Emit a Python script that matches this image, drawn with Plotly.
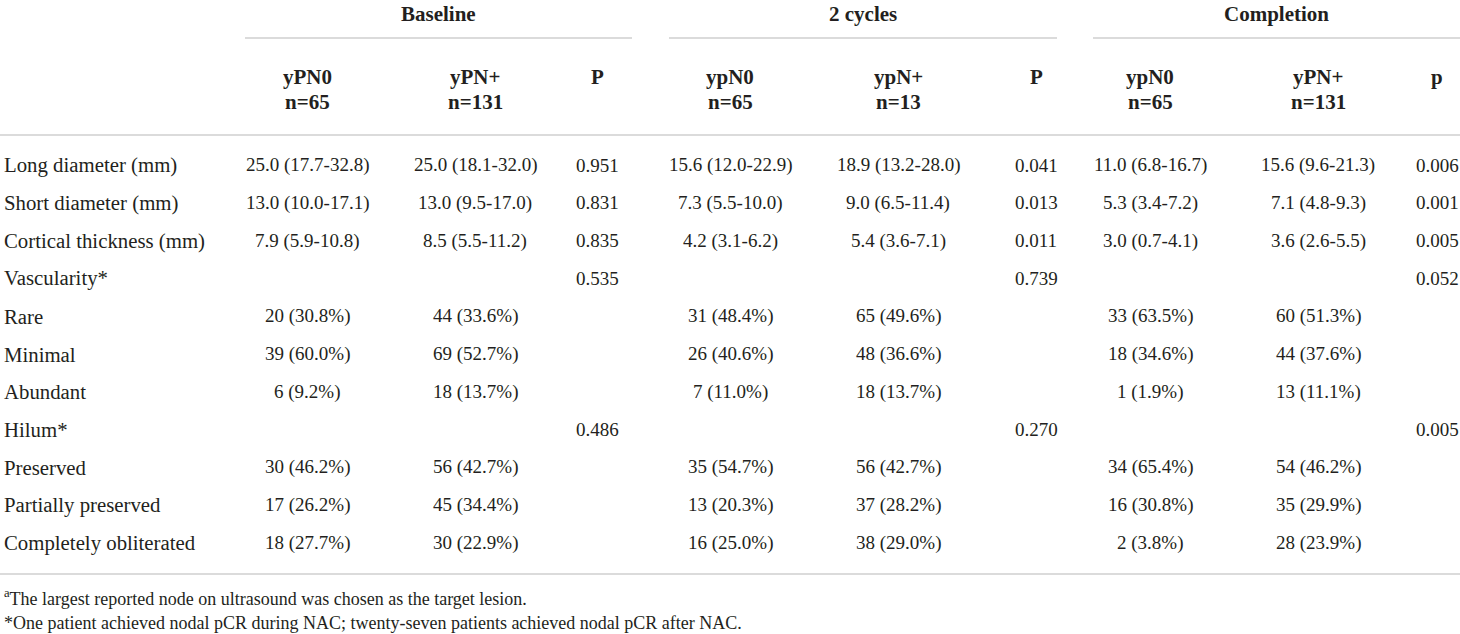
import plotly.graph_objects as go

# ---------------- data ----------------
groups = ["Baseline", "2 cycles", "Completion"]
col_head_1 = ["yPN0", "yPN+", "P", "ypN0", "ypN+", "P", "ypN0", "yPN+", "p"]
col_head_2 = ["n=65", "n=131", "", "n=65", "n=13", "", "n=65", "n=131", ""]
row_labels = ["Long diameter (mm)", "Short diameter (mm)", "Cortical thickness (mm)",
              "Vascularity*", "Rare", "Minimal", "Abundant", "Hilum*",
              "Preserved", "Partially preserved", "Completely obliterated"]

baseline_n0 = ["25.0 (17.7-32.8)", "13.0 (10.0-17.1)", "7.9 (5.9-10.8)", "",
               "20 (30.8%)", "39 (60.0%)", "6 (9.2%)", "",
               "30 (46.2%)", "17 (26.2%)", "18 (27.7%)"]
baseline_np = ["25.0 (18.1-32.0)", "13.0 (9.5-17.0)", "8.5 (5.5-11.2)", "",
               "44 (33.6%)", "69 (52.7%)", "18 (13.7%)", "",
               "56 (42.7%)", "45 (34.4%)", "30 (22.9%)"]
baseline_p = ["0.951", "0.831", "0.835", "0.535", "", "", "", "0.486", "", "", ""]

cyc2_n0 = ["15.6 (12.0-22.9)", "7.3 (5.5-10.0)", "4.2 (3.1-6.2)", "",
           "31 (48.4%)", "26 (40.6%)", "7 (11.0%)", "",
           "35 (54.7%)", "13 (20.3%)", "16 (25.0%)"]
cyc2_np = ["18.9 (13.2-28.0)", "9.0 (6.5-11.4)", "5.4 (3.6-7.1)", "",
           "65 (49.6%)", "48 (36.6%)", "18 (13.7%)", "",
           "56 (42.7%)", "37 (28.2%)", "38 (29.0%)"]
cyc2_p = ["0.041", "0.013", "0.011", "0.739", "", "", "", "0.270", "", "", ""]

comp_n0 = ["11.0 (6.8-16.7)", "5.3 (3.4-7.2)", "3.0 (0.7-4.1)", "",
           "33 (63.5%)", "18 (34.6%)", "1 (1.9%)", "",
           "34 (65.4%)", "16 (30.8%)", "2 (3.8%)"]
comp_np = ["15.6 (9.6-21.3)", "7.1 (4.8-9.3)", "3.6 (2.6-5.5)", "",
           "60 (51.3%)", "44 (37.6%)", "13 (11.1%)", "",
           "54 (46.2%)", "35 (29.9%)", "28 (23.9%)"]
comp_p = ["0.006", "0.001", "0.005", "0.052", "", "", "", "0.005", "", "", ""]

footnotes = ["<sup>a</sup>The largest reported node on ultrasound was chosen as the target lesion.",
             "*One patient achieved nodal pCR during NAC; twenty-seven patients achieved nodal pCR after NAC."]

columns = [baseline_n0, baseline_np, baseline_p,
           cyc2_n0, cyc2_np, cyc2_p,
           comp_n0, comp_np, comp_p]

# ---------------- layout constants ----------------
W, H = 1460, 634
FONT = "Liberation Serif"
COLOR = "#231f20"
LINE = "#cfcfcf"
FS_VAL = 19
FS_LAB = 20.8
FS_HEAD = 21
FS_FOOT = 18
col_x = [307, 475, 597, 730, 898, 1036, 1150, 1318, 1437]
group_span = [(245, 632), (669, 1057), (1093, 1460)]
group_y = 14
group_line_y = 38
head_y1 = 77
head_y2 = 102
rule_top = 135
row_y0 = 165
row_dy = 37.8
rule_bot = 574
foot_y = [597, 623]

fig = go.Figure()
ann = []

for g, (a, b) in zip(groups, group_span):
    ann.append(dict(x=(a + b) / 2, y=group_y, text=f"<b>{g}</b>", showarrow=False,
                    xanchor="center", yanchor="middle", font=dict(size=FS_HEAD)))
for h1, h2, cx in zip(col_head_1, col_head_2, col_x):
    ann.append(dict(x=cx, y=head_y1, text=f"<b>{h1}</b>", showarrow=False,
                    xanchor="center", yanchor="middle", font=dict(size=FS_HEAD)))
    if h2:
        ann.append(dict(x=cx, y=head_y2, text=f"<b>{h2}</b>", showarrow=False,
                        xanchor="center", yanchor="middle", font=dict(size=FS_HEAD)))

for i, lab in enumerate(row_labels):
    y = row_y0 + i * row_dy
    ann.append(dict(x=2, y=y, text=lab, showarrow=False, xanchor="left", yanchor="middle",
                    font=dict(size=FS_LAB)))
    for cx, col in zip(col_x, columns):
        if col[i]:
            ann.append(dict(x=cx, y=y, text=col[i], showarrow=False,
                            xanchor="center", yanchor="middle", font=dict(size=FS_VAL)))

for fy, ft in zip(foot_y, footnotes):
    ann.append(dict(x=2, y=fy, text=ft, showarrow=False, xanchor="left", yanchor="middle",
                    font=dict(size=FS_FOOT)))

shapes = []
for a, b in group_span:
    shapes.append(dict(type="line", x0=a, x1=b, y0=group_line_y, y1=group_line_y,
                       xref="x", yref="y", line=dict(color=LINE, width=1.6)))
for ry in (rule_top, rule_bot):
    shapes.append(dict(type="line", x0=0, x1=W, y0=ry, y1=ry,
                       xref="x", yref="y", line=dict(color=LINE, width=1.6)))

fig.update_layout(
    width=W, height=H,
    margin=dict(l=0, r=0, t=0, b=0),
    paper_bgcolor="white", plot_bgcolor="white",
    font=dict(family=FONT, size=FS_VAL, color=COLOR),
    xaxis=dict(range=[0, W], visible=False, fixedrange=True),
    yaxis=dict(range=[H, 0], visible=False, fixedrange=True),
    annotations=ann, shapes=shapes, showlegend=False,
)

fig.write_html("out.html", config={"displayModeBar": False},
               post_script="document.body.style.margin='0';document.body.style.overflow='hidden';")
